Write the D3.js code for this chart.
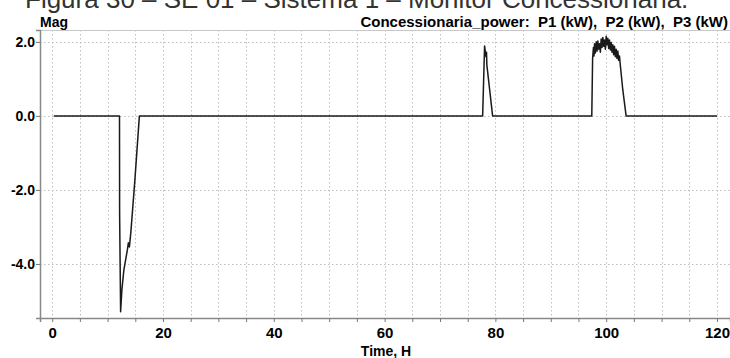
<!DOCTYPE html>
<html>
<head>
<meta charset="utf-8">
<script src="https://cdn.jsdelivr.net/npm/d3@7"></script>
<style>
  body { margin: 0; background: #fff; }
  svg { display: block; font-family: "Liberation Sans", Arial, sans-serif; }
  .pre { white-space: pre; }
</style>
</head>
<body>
<svg id="chart"></svg>
<script>
// time axis (hours) and magnitude values
const timeH = [0.3, 12.15, 12.17, 12.35, 12.58, 12.94, 13.57, 13.75, 13.94, 14.2, 14.93, 15.74,
  77.7, 78.05, 78.3, 78.4, 78.46, 79.5,
  97.4, 97.55, 97.7, 97.8, 97.9, 98.05, 98.2, 98.35, 98.5, 98.65, 98.8, 98.95, 99.1,
  99.25, 99.4, 99.55, 99.7, 99.85, 100.0, 100.15, 100.3, 100.45, 100.6, 100.75,
  100.9, 101.05, 101.2, 101.35, 101.5, 101.65, 101.8, 101.95, 102.1, 102.25, 102.4,
  102.5, 103.0, 103.6, 120];
const power = [0, 0, -2.62, -5.29, -4.70, -4.16, -3.62, -3.43, -3.54, -3.14, -1.73, 0,
  0, 1.89, 1.6, 1.72, 1.38, 0,
  0, 1.55, 1.85, 1.62, 1.95, 1.7, 2.0, 1.75, 2.02, 1.8, 1.95, 1.72, 2.08,
  1.85, 2.12, 1.88, 2.05, 1.8, 2.15, 1.92, 2.1, 1.82, 2.05, 1.78,
  1.98, 1.72, 1.92, 1.65, 1.88, 1.6, 1.8, 1.55, 1.75, 1.5, 1.62,
  1.45, 0.7, 0, 0];

const xTicks = [0, 20, 40, 60, 80, 100, 120];
const xGrid = d3.range(0, 121, 5);
const yTicks = [2, 0, -2, -4];

const titleText = "Figura 30 \u2013 SE 01 \u2013 Sistema 1 \u2013 Monitor Concession\u00e1ria.";
const yLabel = "Mag";
const xLabel = "Time, H";
const seriesLabel = "Concessionaria_power:  P1 (kW),  P2 (kW),  P3 (kW)";

const width = 730, height = 358;
const plot = { left: 40, right: 730, top: 30, bottom: 318 };

const svg = d3.select("#chart").attr("width", width).attr("height", height);

const x = d3.scaleLinear().domain([-2.2, 122.35]).range([plot.left, plot.right]);
const y = d3.scaleLinear().domain([2.32, -5.46]).range([plot.top, plot.bottom]);

// figure caption, clipped by the top edge as in the source
svg.append("text")
  .attr("x", 25).attr("y", 8)
  .attr("font-size", 26)
  .attr("fill", "#333")
  .text(titleText);

// grid
const grid = svg.append("g").attr("stroke", "#bdbdbd").attr("stroke-dasharray", "1.5,2.5").attr("stroke-width", 1);
grid.selectAll("line.v").data(xGrid).join("line")
  .attr("class", "v")
  .attr("x1", d => Math.round(x(d)) + 0.5).attr("x2", d => Math.round(x(d)) + 0.5)
  .attr("y1", plot.top).attr("y2", plot.bottom);
grid.selectAll("line.h").data(yTicks).join("line")
  .attr("class", "h")
  .attr("x1", plot.left).attr("x2", plot.right)
  .attr("y1", d => Math.round(y(d)) + 0.5).attr("y2", d => Math.round(y(d)) + 0.5);

// frame top
svg.append("line").attr("x1", plot.left).attr("x2", plot.right)
  .attr("y1", plot.top + 0.5).attr("y2", plot.top + 0.5)
  .attr("stroke", "#c8c8c8");

// axes
const xAxis = svg.append("g")
  .attr("transform", `translate(0,${plot.bottom})`)
  .call(d3.axisBottom(x).tickValues(xGrid).tickSize(4).tickFormat(d => xTicks.includes(d) ? d : ""));
xAxis.select(".domain").attr("stroke", "#888").attr("stroke-width", 1.5);
xAxis.selectAll(".tick line").attr("stroke", "#777");
xAxis.selectAll(".tick text")
  .attr("font-size", 15).attr("font-weight", "bold")
  .attr("font-family", "Liberation Sans, Arial, sans-serif")
  .attr("fill", "#000").attr("dy", "0.71em").attr("y", 9);

const yAxis = svg.append("g")
  .attr("transform", `translate(${plot.left},0)`)
  .call(d3.axisLeft(y).tickValues(yTicks).tickSize(4).tickFormat(d => d.toFixed(1)));
yAxis.select(".domain").attr("stroke", "#888").attr("stroke-width", 1.5);
yAxis.selectAll(".tick line").attr("stroke", "#777");
yAxis.selectAll(".tick text")
  .attr("font-size", 14).attr("font-weight", "bold")
  .attr("font-family", "Liberation Sans, Arial, sans-serif")
  .attr("fill", "#000").attr("x", -5);

// labels
svg.append("text").attr("x", 40).attr("y", 27)
  .attr("font-size", 14).attr("font-weight", "bold").text(yLabel);
svg.append("text").attr("class", "pre").attr("x", 728).attr("y", 27).attr("text-anchor", "end")
  .attr("font-size", 15).attr("font-weight", "bold").text(seriesLabel);
svg.append("text").attr("x", 386).attr("y", 356).attr("text-anchor", "middle")
  .attr("font-size", 14).attr("font-weight", "bold").text(xLabel);

// series
const pts = timeH.map((t, i) => [t, power[i]]);
svg.append("path")
  .datum(pts)
  .attr("fill", "none")
  .attr("stroke", "#1a1a1a")
  .attr("stroke-width", 1.5)
  .attr("stroke-linejoin", "round")
  .attr("d", d3.line().x(d => x(d[0])).y(d => y(d[1])));
</script>
</body>
</html>
